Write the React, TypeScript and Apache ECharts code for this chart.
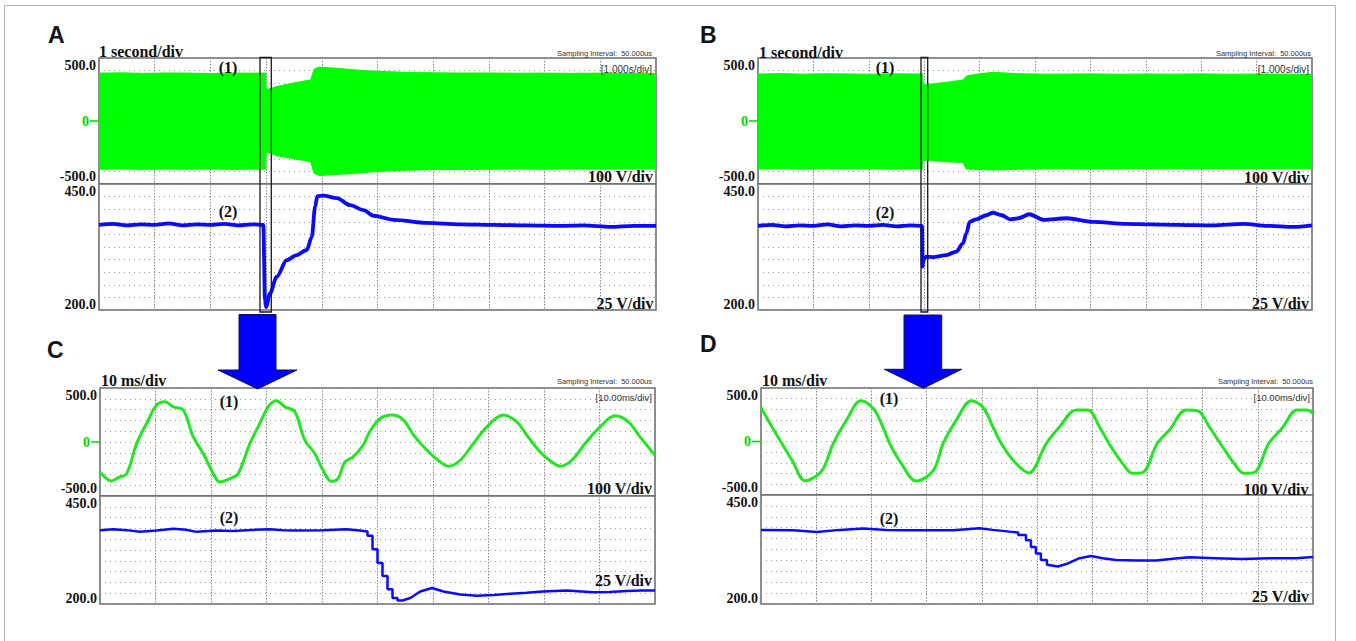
import React, { useEffect, useRef } from 'react';
import * as echarts from 'echarts';

// ---------- Panel A (1 s/div) ----------
const aEnvT = [0, 0.4, 0.8, 1.2, 1.6, 2.0, 2.4, 2.8, 2.99, 3.0, 3.2, 3.4, 3.6, 3.8, 3.86, 3.95, 4.2, 4.7, 5.0, 5.5, 6.0, 6.5, 7.0, 7.5, 8.0, 8.5, 9.0, 9.5, 10];
const aUp = [379, 382, 378, 381, 380, 377, 381, 379, 380, 246, 275, 293, 311, 326, 410, 428, 420, 402, 394, 386, 382, 380, 381, 379, 380, 378, 380, 379, 378];
const aLo = [-383, -380, -384, -381, -383, -380, -384, -382, -383, -244, -276, -292, -308, -323, -415, -432, -426, -412, -400, -390, -386, -384, -383, -381, -383, -380, -382, -381, -380];
const aBlueT = [0, 0.25, 0.5, 0.75, 1.0, 1.25, 1.5, 1.75, 2.0, 2.25, 2.5, 2.75, 2.95, 2.98, 3.0, 3.07, 3.19, 3.37, 3.55, 3.73, 3.82, 3.88, 3.92, 4.03, 4.27, 4.51, 4.75, 4.93, 5.29, 5.89, 6.48, 7.08, 7.7, 8.28, 8.7, 9.18, 9.6, 10];
const aBlue = [369, 371, 368, 370, 369, 372, 368, 370, 369, 371, 368, 370, 369, 220, 206, 233, 266, 299, 309, 319, 345, 405, 426, 427, 422, 408, 398, 387, 379, 373, 370, 369, 368, 367, 368, 365, 367, 367];

// ---------- Panel B (1 s/div) ----------
const bEnvT = [0, 0.4, 0.8, 1.2, 1.6, 2.0, 2.4, 2.8, 2.97, 2.98, 3.2, 3.45, 3.7, 3.76, 4.0, 4.24, 4.7, 5.2, 6.0, 6.5, 7.0, 7.5, 8.0, 8.5, 9.0, 9.5, 10];
const bUp = [373, 376, 372, 375, 374, 371, 375, 373, 374, 286, 297, 310, 325, 357, 375, 386, 375, 372, 374, 371, 373, 372, 374, 371, 373, 372, 371];
const bLo = [-381, -378, -382, -379, -381, -378, -382, -380, -381, -310, -317, -324, -331, -381, -386, -389, -383, -379, -378, -380, -377, -379, -376, -378, -377, -376, -376];
const bBlueT = [0, 0.25, 0.5, 0.75, 1.0, 1.25, 1.5, 1.75, 2.0, 2.25, 2.5, 2.75, 2.96, 2.97, 2.99, 3.04, 3.16, 3.4, 3.58, 3.7, 3.76, 3.82, 3.94, 4.12, 4.24, 4.4, 4.55, 4.7, 4.9, 5.15, 5.57, 6.05, 6.65, 7.1, 7.56, 8.2, 8.76, 9.2, 9.66, 10];
const bBlue = [367, 369, 366, 368, 367, 370, 366, 368, 367, 369, 366, 368, 367, 286, 300, 306, 305, 309, 316, 332, 352, 375, 380, 388, 393, 388, 380, 382, 390, 379, 382, 375, 371, 370, 369, 368, 371, 367, 365, 368];

// ---------- Panel C (10 ms/div) ----------
const cT = [0, 2.1, 3.3, 4.8, 6.6, 8.4, 10.2, 11.7, 13.2, 15.0, 16.8, 18.6, 20.4, 21.6, 23.4, 24.9, 27.0, 28.8, 30.3, 31.8, 33.3, 35.1, 36.9, 38.7, 40.2, 41.7, 42.9, 44.1, 45.6, 47.4, 48.6, 50.5, 52.6, 54.7, 56.5, 58.9, 61.3, 62.8, 64.9, 67.3, 69.7, 72.7, 75.1, 76.9, 79.3, 81.4, 82.9, 85.0, 87.4, 90.1, 92.8, 95.2, 97.3, 100];
const cGreen = [-278, -361, -330, -293, -14, 172, 342, 373, 326, 296, 47, -107, -293, -371, -339, -293, -14, 172, 326, 382, 326, 280, 17, -107, -262, -364, -339, -185, -138, -30, 95, 218, 249, 203, 63, -76, -185, -225, -169, -14, 140, 249, 187, 63, -92, -185, -225, -169, -14, 140, 242, 187, 47, -123];
const cBlueT = [0, 2.4, 4.8, 7.2, 10.2, 13.2, 15.5, 17.4, 21.0, 24.0, 26.4, 30.6, 33.0, 35.4, 40.2, 44.4, 46.8, 48.2, 48.2, 49.1, 49.1, 50.0, 50.0, 50.9, 50.9, 51.8, 51.8, 52.7, 52.7, 53.6, 53.6, 54.5, 55.9, 57.7, 59.8, 61.9, 64.9, 67.9, 70.9, 73.9, 76.9, 79.8, 84.1, 88.8, 91.8, 94.9, 97.5, 100];
const cBlue = [371, 373, 371, 367, 370, 374, 372, 367, 370, 369, 371, 373, 371, 370, 371, 373, 370, 368, 358, 358, 327, 327, 295, 295, 265, 265, 234, 234, 214, 214, 208, 208, 214, 229, 237, 229, 222, 219, 221, 224, 226, 229, 231, 227, 228, 230, 231, 231];

// ---------- Panel D (10 ms/div) ----------
const dT = [0, 1.6, 3.4, 5.6, 8.0, 9.8, 11.3, 13.1, 15.5, 18.1, 20.3, 21.8, 23.3, 25.4, 28.1, 31.2, 33.0, 35.4, 38.1, 40.2, 42.0, 43.5, 45.9, 48.5, 51.7, 54.1, 57.1, 59.2, 61.3, 63.4, 65.5, 67.3, 69.1, 71.8, 74.0, 77.0, 79.1, 81.2, 83.6, 85.7, 87.5, 89.3, 92.0, 94.4, 97.1, 98.9, 100];
const dGreen = [320, 170, 14, -173, -366, -329, -251, -17, 201, 381, 310, 170, -17, -204, -369, -273, -17, 201, 381, 320, 138, -17, -189, -294, -17, 138, 295, 295, 138, -49, -204, -297, -291, -17, 108, 295, 288, 138, -49, -204, -297, -291, -17, 123, 295, 295, 264];
const dBlueT = [0, 5.8, 10.1, 14.3, 18.5, 22.7, 26.5, 30.0, 34.8, 39.6, 42.0, 45.0, 46.6, 46.6, 48.0, 48.0, 48.9, 48.9, 49.8, 49.8, 50.7, 50.7, 51.8, 51.8, 53.8, 55.6, 57.7, 59.8, 61.9, 64.3, 68.0, 71.6, 74.6, 77.6, 82.4, 87.2, 92.0, 96.9, 100];
const dBlue = [370, 369, 365, 370, 373, 370, 369, 369, 369, 374, 370, 366, 364, 358, 358, 346, 346, 331, 331, 316, 316, 301, 301, 290, 286, 293, 305, 310, 305, 301, 300, 300, 304, 307, 305, 303, 305, 305, 308];

// ---------- axis scales ----------
const volt1 = { min: -500, max: 500, interval: 100 };
const volt2 = { min: 200, max: 450, interval: 25 };
const slowX = { min: 0, max: 10, interval: 1 };
const fastX = { min: 0, max: 100, interval: 10 };

const SERIF = '"Liberation Serif", "Times New Roman", serif';
const SANS = '"Liberation Sans", Arial, sans-serif';
const GREEN_FILL = '#00ff00';
const GREEN_LINE = '#22e622';
const GREEN_TXT = '#00d800';
const BLUE = '#0a0aff';

const zip = (t: number[], v: number[]) => t.map((x, i) => [x, v[i]]);

const GRIDS = [
  { left: 99, top: 58, width: 557, height: 126 },
  { left: 99, top: 184, width: 557, height: 126 },
  { left: 758, top: 58, width: 554, height: 126 },
  { left: 758, top: 184, width: 554, height: 126 },
  { left: 100, top: 388, width: 555, height: 108 },
  { left: 100, top: 496, width: 555, height: 108 },
  { left: 761, top: 388, width: 552, height: 107 },
  { left: 761, top: 495, width: 552, height: 109 },
];

function yLabel(sc: { min: number; max: number }, zero: boolean, botPad: number) {
  const base = { fontFamily: SERIF, fontWeight: 'bold' as const, fontSize: 14, color: '#111' };
  return {
    show: true,
    margin: 3,
    showMinLabel: true,
    showMaxLabel: true,
    formatter: (v: number) => {
      if (Math.abs(v - sc.max) < 1e-6) return `{top|${sc.max.toFixed(1)}}`;
      if (Math.abs(v - sc.min) < 1e-6) return `{bot|${sc.min.toFixed(1)}}`;
      if (zero && Math.abs(v) < 1e-6) return '{zero|0}';
      return '';
    },
    rich: {
      top: { ...base, padding: [14, 0, 0, 0] },
      bot: { ...base, padding: [0, 0, botPad, 0] },
      zero: { ...base, color: GREEN_TXT, padding: [0, 7, 0, 0] },
    },
  };
}

function buildOption() {
  const xs = [slowX, slowX, slowX, slowX, fastX, fastX, fastX, fastX];
  const ys = [volt1, volt2, volt1, volt2, volt1, volt2, volt1, volt2];

  const grid = GRIDS.map((g) => ({
    ...g,
    show: true,
    borderColor: '#6a6a6a',
    borderWidth: 1.5,
    backgroundColor: '#ffffff',
    containLabel: false,
    outerBoundsMode: 'none',
  }));

  const xAxis = xs.map((sc, i) => ({
    gridIndex: i,
    type: 'value',
    min: sc.min,
    max: sc.max,
    interval: sc.interval,
    axisLine: { show: false },
    axisTick: { show: false },
    axisLabel: { show: false },
    splitLine: { show: true, lineStyle: { color: '#8a8a8a', width: 1, type: [1.5, 1.5] } },
  }));

  const yAxis = ys.map((sc, i) => ({
    gridIndex: i,
    type: 'value',
    min: sc.min,
    max: sc.max,
    interval: sc.interval,
    axisLine: { show: false },
    axisTick: { show: false },
    axisLabel: yLabel(sc, i % 2 === 0, i % 2 === 0 ? 16 : 12),
    splitLine: { show: true, lineStyle: { color: '#9a9a9a', width: 1, type: [1, 4] } },
  }));

  const band = (idx: number, t: number[], v: number[]) => ({
    type: 'line',
    xAxisIndex: idx,
    yAxisIndex: idx,
    data: zip(t, v),
    symbol: 'none',
    silent: true,
    lineStyle: { width: 1, color: GREEN_FILL },
    areaStyle: { color: GREEN_FILL, opacity: 1 },
    z: 2,
  });
  const trace = (idx: number, t: number[], v: number[], color: string, width: number, extra: any = {}) => ({
    type: 'line',
    xAxisIndex: idx,
    yAxisIndex: idx,
    data: zip(t, v),
    symbol: 'none',
    silent: true,
    lineStyle: { width, color },
    z: 3,
    ...extra,
  });

  const series = [
    band(0, aEnvT, aUp),
    band(0, aEnvT, aLo),
    trace(1, aBlueT, aBlue, BLUE, 3.8, { smooth: 0.3, smoothMonotone: 'x' }),
    band(2, bEnvT, bUp),
    band(2, bEnvT, bLo),
    trace(3, bBlueT, bBlue, BLUE, 3.8, { smooth: 0.3, smoothMonotone: 'x' }),
    trace(4, cT, cGreen, GREEN_LINE, 3, { smooth: 0.35 }),
    trace(5, cBlueT, cBlue, BLUE, 2.5),
    trace(6, dT, dGreen, GREEN_LINE, 3, { smooth: 0.35 }),
    trace(7, dBlueT, dBlue, BLUE, 2.5),
  ];

  const txt = (text: string, x: number, y: number, font: string, align: string, fill = '#111') => ({
    type: 'text',
    x,
    y,
    z: 100,
    silent: true,
    style: { text, font, fill, align, verticalAlign: 'middle' },
  });

  const big = `bold 23px ${SANS}`;
  const div = `bold 16px ${SERIF}`;
  const smp = `7.5px ${SANS}`;
  const ch = `bold 16px ${SERIF}`;

  const graphic: any[] = [
    { type: 'rect', z: 0, silent: true, shape: { x: 4.5, y: 5.5, width: 1331, height: 650 }, style: { fill: 'none', stroke: '#b4b4b4', lineWidth: 1 } },
    txt('A', 48, 35, big, 'left'),
    txt('B', 700, 35, big, 'left'),
    txt('C', 47, 350, big, 'left'),
    txt('D', 700, 344, big, 'left'),
    txt('1 second/div', 99, 51, div, 'left'),
    txt('1 second/div', 759, 52, div, 'left'),
    txt('10 ms/div', 101, 380, div, 'left'),
    txt('10 ms/div', 762, 380, div, 'left'),
    txt('Sampling Interval:  50.000us', 652, 53.5, smp, 'right', '#333'),
    txt('Sampling Interval:  50.000us', 1311, 53.5, smp, 'right', '#333'),
    txt('Sampling Interval:  50.000us', 652, 381, smp, 'right', '#333'),
    txt('Sampling Interval:  50.000us', 1313, 381.5, smp, 'right', '#333'),
    txt('[1.000s/div]', 652, 69.5, `10px ${SANS}`, 'right', '#333'),
    txt('[1.000s/div]', 1309, 69.5, `10px ${SANS}`, 'right', '#333'),
    txt('[10.00ms/div]', 652, 397, `9.5px ${SANS}`, 'right', '#333'),
    txt('[10.00ms/div]', 1310, 397.5, `9.5px ${SANS}`, 'right', '#333'),
    txt('(1)', 228, 67.5, ch, 'center'),
    txt('(2)', 228, 211, ch, 'center'),
    txt('(1)', 885, 67.5, ch, 'center'),
    txt('(2)', 885, 212, ch, 'center'),
    txt('(1)', 229, 401, ch, 'center'),
    txt('(2)', 229, 517, ch, 'center'),
    txt('(1)', 889, 398, ch, 'center'),
    txt('(2)', 889, 518.5, ch, 'center'),
    txt('100 V/div', 653, 176, div, 'right'),
    txt('100 V/div', 1309, 177, div, 'right'),
    txt('100 V/div', 652, 488, div, 'right'),
    txt('100 V/div', 1308.5, 489.5, div, 'right'),
    txt('25 V/div', 653.5, 303.5, div, 'right'),
    txt('25 V/div', 1309, 303, div, 'right'),
    txt('25 V/div', 652, 580, div, 'right'),
    txt('25 V/div', 1309, 596, div, 'right'),
    // green zero ticks
    { type: 'line', z: 100, silent: true, shape: { x1: 90, y1: 121, x2: 99, y2: 121 }, style: { stroke: GREEN_TXT, lineWidth: 1.5 } },
    { type: 'line', z: 100, silent: true, shape: { x1: 749, y1: 121, x2: 758, y2: 121 }, style: { stroke: GREEN_TXT, lineWidth: 1.5 } },
    { type: 'line', z: 100, silent: true, shape: { x1: 91, y1: 442, x2: 100, y2: 442 }, style: { stroke: GREEN_TXT, lineWidth: 1.5 } },
    { type: 'line', z: 100, silent: true, shape: { x1: 752, y1: 441.5, x2: 761, y2: 441.5 }, style: { stroke: GREEN_TXT, lineWidth: 1.5 } },
    // zoom windows
    { type: 'rect', z: 100, silent: true, shape: { x: 260, y: 57.5, width: 11.3, height: 254.5 }, style: { fill: 'none', stroke: '#1a1a1a', lineWidth: 1.3 } },
    { type: 'rect', z: 100, silent: true, shape: { x: 921, y: 57.5, width: 6.7, height: 254.5 }, style: { fill: 'none', stroke: '#1a1a1a', lineWidth: 1.3 } },
    // arrows
    {
      type: 'polygon', z: 100, silent: true,
      shape: { points: [[239, 314.5], [276, 314.5], [276, 370], [297, 370], [257.7, 389], [218, 370], [239, 370]] },
      style: { fill: '#0000ff', stroke: '#101050', lineWidth: 1 },
    },
    {
      type: 'polygon', z: 100, silent: true,
      shape: { points: [[904, 315], [941.7, 315], [941.7, 369.3], [961.7, 369.3], [923.3, 388.3], [884.3, 369.3], [904, 369.3]] },
      style: { fill: '#0000ff', stroke: '#101050', lineWidth: 1 },
    },
  ];

  return {
    animation: false,
    backgroundColor: '#ffffff',
    grid,
    xAxis,
    yAxis,
    series,
    graphic,
  };
}

export default function App() {
  const ref = useRef<HTMLDivElement>(null);
  useEffect(() => {
    if (!ref.current) return;
    const chart = echarts.init(ref.current, undefined, { renderer: 'svg' });
    chart.setOption(buildOption() as any);
    return () => chart.dispose();
  }, []);
  return (
    <div
      ref={ref}
      style={{ position: 'absolute', left: 0, top: 0, width: 1356, height: 641, background: '#fff' }}
    />
  );
}
